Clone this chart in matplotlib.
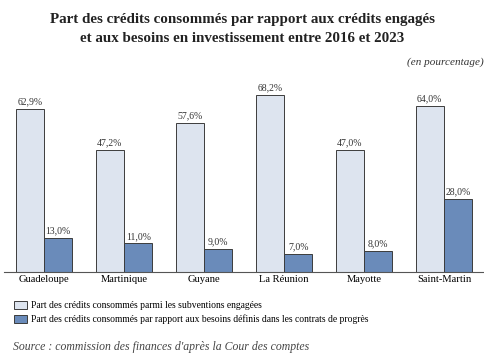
import matplotlib.pyplot as plt
import numpy as np
from matplotlib.patches import Patch

# Donnees
territoires = ['Guadeloupe', 'Martinique', 'Guyane', 'La Réunion', 'Mayotte', 'Saint-Martin']
part_subventions = [62.9, 47.2, 57.6, 68.2, 47.0, 64.0]
part_besoins = [13.0, 11.0, 9.0, 7.0, 8.0, 28.0]

plt.rcParams['font.family'] = ['Liberation Serif', 'DejaVu Serif']

clair = '#dde4ef'
fonce = '#6a8bba'
bord = '#3c3c3c'

fig = plt.figure(figsize=(4.85, 3.6), dpi=100)
ax = fig.add_axes([4 / 485, 1 - 272 / 360, 480 / 485, 192 / 360])

x = np.arange(len(territoires))
w = 0.356
b1 = ax.bar(x - w / 2, part_subventions, w, color=clair, edgecolor=bord, linewidth=0.7)
b2 = ax.bar(x + w / 2, part_besoins, w, color=fonce, edgecolor=bord, linewidth=0.7)

def fmt(v):
    return '{:.1f}%'.format(v).replace('.', ',')

for rect, v in zip(list(b1) + list(b2), part_subventions + part_besoins):
    ax.text(rect.get_x() + rect.get_width() / 2, v + 1.0, fmt(v),
            ha='center', va='bottom', fontsize=7, color='#333333')

ax.set_xlim(-0.5, 5.5)
ax.set_ylim(0, 74)
ax.set_yticks([])
ax.set_xticks(x)
ax.set_xticklabels(territoires, fontsize=7.6)
ax.tick_params(axis='x', length=0, pad=2.5)
for s in ['top', 'right', 'left']:
    ax.spines[s].set_visible(False)
ax.spines['bottom'].set_color('#555555')
ax.spines['bottom'].set_linewidth(0.8)

fig.text(0.5, 1 - 20 / 360, 'Part des crédits consommés par rapport aux crédits engagés',
         ha='center', va='center', fontsize=10.8, fontweight='bold', color='#222222')
fig.text(0.5, 1 - 39 / 360, 'et aux besoins en investissement entre 2016 et 2023',
         ha='center', va='center', fontsize=10.8, fontweight='bold', color='#222222')
fig.text(484 / 485, 1 - 62 / 360, '(en pourcentage)', ha='right', va='center',
         fontsize=8, style='italic', color='#333333')

handles = [Patch(facecolor=clair, edgecolor=bord, linewidth=0.7),
           Patch(facecolor=fonce, edgecolor=bord, linewidth=0.7)]
labels = ['Part des crédits consommés parmi les subventions engagées',
          'Part des crédits consommés par rapport aux besoins définis dans les contrats de progrès']
fig.legend(handles, labels, loc='upper left', bbox_to_anchor=(14 / 485, 1 - 301 / 360),
           frameon=False, fontsize=6.9, handlelength=1.35, handleheight=0.95,
           handletextpad=0.4, labelspacing=0.45, borderpad=0, borderaxespad=0)

fig.text(13 / 485, 1 - 347 / 360, "Source : commission des finances d'après la Cour des comptes",
         ha='left', va='center', fontsize=8.5, style='italic', color='#444444')

fig.savefig('out.png', dpi=100)
